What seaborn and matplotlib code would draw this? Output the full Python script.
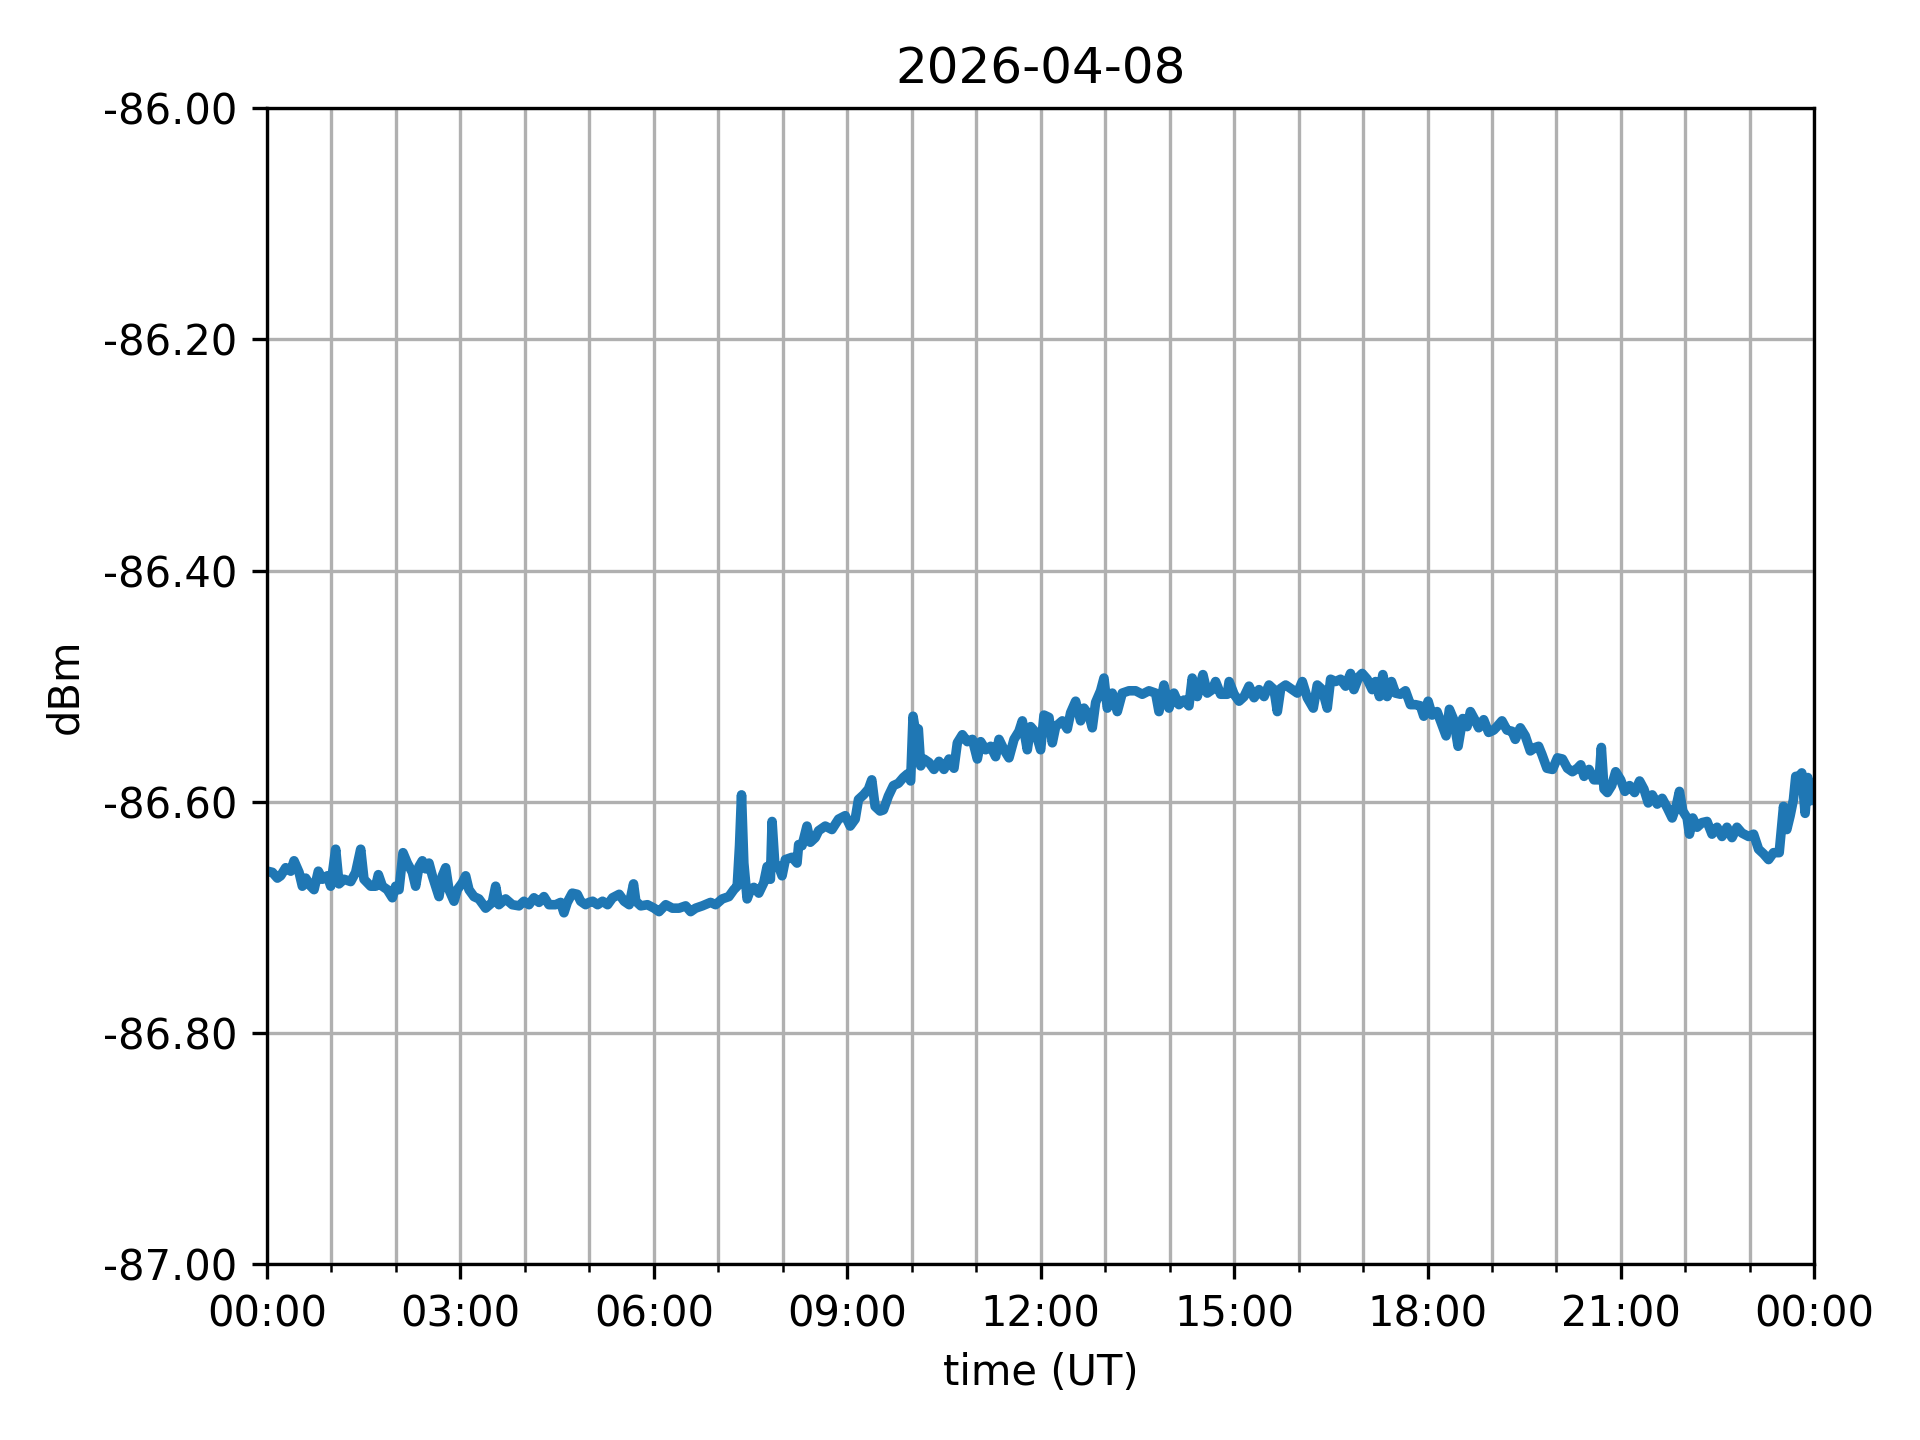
import pandas as pd
import numpy as np
import matplotlib
matplotlib.use('Agg')
import matplotlib.pyplot as plt
import matplotlib.dates as mdates
import matplotlib.ticker as mticker
import seaborn as sns

# signal level for one day
day = '2026-04-08'

hours = [0.01, 0.085, 0.163, 0.214, 0.292, 0.370, 0.421, 0.499, 0.550, 0.602,
         0.680, 0.731, 0.798, 0.860, 0.938, 0.990, 1.067, 1.119, 1.196, 1.300,
         1.377, 1.455, 1.506, 1.610, 1.687, 1.729, 1.791, 1.868, 1.946, 1.997,
         2.049, 2.111, 2.178, 2.256, 2.307, 2.359, 2.411, 2.463, 2.514, 2.566,
         2.618, 2.669, 2.721, 2.773, 2.824, 2.902, 2.953, 3.031, 3.083, 3.134,
         3.212, 3.289, 3.393, 3.496, 3.548, 3.599, 3.703, 3.806, 3.910, 3.987,
         4.065, 4.142, 4.220, 4.297, 4.375, 4.478, 4.556, 4.607, 4.659, 4.736,
         4.814, 4.866, 4.943, 4.995,
         5.052, 5.129, 5.206, 5.284, 5.361, 5.464, 5.541, 5.619, 5.686, 5.722,
         5.799, 5.902, 6.005, 6.082, 6.186, 6.289, 6.392, 6.495, 6.572, 6.649,
         6.753, 6.881, 6.959, 7.062, 7.165, 7.242, 7.294, 7.330, 7.361, 7.397,
         7.448, 7.500, 7.552, 7.629, 7.706, 7.758, 7.809, 7.835, 7.876, 7.938,
         7.990, 8.041, 8.144, 8.222, 8.247, 8.299, 8.376, 8.428, 8.505, 8.557,
         8.660, 8.763, 8.866, 8.969, 9.046, 9.124, 9.175, 9.253, 9.330, 9.381,
         9.433, 9.510, 9.562, 9.639, 9.716, 9.794, 9.871,
         9.933, 9.984, 10.021, 10.062, 10.103, 10.140, 10.191, 10.269, 10.346, 10.424,
         10.501, 10.579, 10.656, 10.708, 10.786, 10.863, 10.941, 11.018, 11.070, 11.147,
         11.225, 11.302, 11.354, 11.432, 11.509, 11.587, 11.664, 11.716, 11.793, 11.845,
         11.922, 12.000, 12.052, 12.129, 12.181, 12.233, 12.336, 12.413, 12.465, 12.543,
         12.620, 12.672, 12.749, 12.801, 12.853, 12.930, 12.982, 13.034, 13.111, 13.189,
         13.266, 13.370, 13.473, 13.576, 13.680, 13.783, 13.835, 13.912, 13.990, 14.067,
         14.145, 14.222, 14.300, 14.351, 14.429, 14.517, 14.584, 14.661, 14.713, 14.791,
         14.894,
         14.923, 15.000, 15.077, 15.155, 15.232, 15.310, 15.387, 15.465, 15.542, 15.619,
         15.671, 15.723, 15.800, 15.903, 15.981, 16.058, 16.135, 16.228, 16.290, 16.368,
         16.445, 16.497, 16.574, 16.652, 16.729, 16.806, 16.858, 16.935, 16.987, 17.065,
         17.142, 17.194, 17.255, 17.307, 17.374, 17.441, 17.503, 17.581, 17.658, 17.735,
         17.813, 17.890, 17.942, 18.009, 18.071, 18.148, 18.215, 18.288, 18.339, 18.406,
         18.474, 18.546, 18.613, 18.665, 18.742, 18.794, 18.871, 18.948, 19.026, 19.077,
         19.155, 19.232, 19.310, 19.361, 19.439, 19.516, 19.594, 19.671, 19.723, 19.774,
         19.852,
         19.938, 20.015, 20.093, 20.170, 20.247, 20.325, 20.376, 20.428, 20.505, 20.582,
         20.660, 20.696, 20.737, 20.789, 20.856, 20.918, 20.995, 21.062, 21.134, 21.211,
         21.289, 21.356, 21.423, 21.485, 21.562, 21.639, 21.716, 21.794, 21.856, 21.907,
         21.959, 22.026, 22.062, 22.113, 22.180, 22.258, 22.335, 22.412, 22.490, 22.567,
         22.644, 22.722, 22.799, 22.876, 22.979, 23.057, 23.134, 23.211, 23.289, 23.366,
         23.454, 23.521, 23.572, 23.624, 23.675, 23.711, 23.763, 23.804, 23.856, 23.897,
         23.933]

dbm = [-86.660, -86.661, -86.666, -86.664, -86.657, -86.660, -86.651, -86.661, -86.673, -86.666,
       -86.673, -86.676, -86.660, -86.667, -86.664, -86.673, -86.641, -86.671, -86.667, -86.669,
       -86.661, -86.641, -86.667, -86.673, -86.673, -86.663, -86.673, -86.676, -86.683, -86.673,
       -86.676, -86.644, -86.653, -86.661, -86.673, -86.656, -86.651, -86.658, -86.653, -86.664,
       -86.673, -86.682, -86.664, -86.657, -86.676, -86.686, -86.676, -86.670, -86.664, -86.676,
       -86.682, -86.684, -86.692, -86.687, -86.673, -86.689, -86.684, -86.689, -86.690, -86.686,
       -86.689, -86.683, -86.687, -86.682, -86.689, -86.689, -86.687, -86.696, -86.687, -86.679,
       -86.680, -86.686, -86.689, -86.687,
       -86.686, -86.689, -86.686, -86.689, -86.683, -86.680, -86.686, -86.689, -86.671, -86.686,
       -86.690, -86.689, -86.692, -86.695, -86.689, -86.692, -86.692, -86.690, -86.695, -86.692,
       -86.690, -86.687, -86.689, -86.684, -86.682, -86.676, -86.673, -86.638, -86.594, -86.653,
       -86.684, -86.676, -86.674, -86.679, -86.670, -86.656, -86.667, -86.617, -86.653, -86.656,
       -86.664, -86.650, -86.648, -86.653, -86.637, -86.638, -86.621, -86.635, -86.631, -86.625,
       -86.621, -86.624, -86.615, -86.612, -86.621, -86.615, -86.598, -86.594, -86.589, -86.581,
       -86.604, -86.608, -86.607, -86.595, -86.586, -86.584, -86.579,
       -86.576, -86.582, -86.526, -86.540, -86.537, -86.569, -86.563, -86.566, -86.572, -86.565,
       -86.572, -86.563, -86.571, -86.549, -86.542, -86.548, -86.546, -86.563, -86.548, -86.555,
       -86.552, -86.561, -86.546, -86.555, -86.562, -86.546, -86.539, -86.530, -86.555, -86.535,
       -86.540, -86.555, -86.525, -86.527, -86.549, -86.535, -86.530, -86.537, -86.523, -86.513,
       -86.530, -86.519, -86.525, -86.536, -86.514, -86.504, -86.493, -86.519, -86.506, -86.522,
       -86.506, -86.504, -86.504, -86.507, -86.504, -86.506, -86.522, -86.499, -86.519, -86.506,
       -86.516, -86.512, -86.517, -86.493, -86.509, -86.490, -86.506, -86.503, -86.496, -86.507,
       -86.507,
       -86.496, -86.507, -86.513, -86.509, -86.500, -86.510, -86.503, -86.509, -86.499, -86.503,
       -86.522, -86.502, -86.499, -86.503, -86.506, -86.496, -86.510, -86.519, -86.499, -86.503,
       -86.519, -86.494, -86.496, -86.494, -86.500, -86.489, -86.503, -86.492, -86.489, -86.494,
       -86.503, -86.496, -86.509, -86.490, -86.509, -86.496, -86.506, -86.507, -86.504, -86.516,
       -86.516, -86.517, -86.526, -86.513, -86.525, -86.522, -86.532, -86.543, -86.520, -86.529,
       -86.552, -86.528, -86.535, -86.522, -86.530, -86.536, -86.529, -86.540, -86.538, -86.535,
       -86.530, -86.538, -86.539, -86.546, -86.536, -86.543, -86.556, -86.553, -86.552, -86.559,
       -86.571,
       -86.572, -86.562, -86.563, -86.571, -86.574, -86.571, -86.568, -86.578, -86.572, -86.581,
       -86.581, -86.553, -86.589, -86.592, -86.586, -86.574, -86.581, -86.591, -86.586, -86.592,
       -86.582, -86.589, -86.601, -86.594, -86.602, -86.597, -86.605, -86.614, -86.604, -86.591,
       -86.608, -86.614, -86.628, -86.614, -86.622, -86.618, -86.617, -86.628, -86.622, -86.630,
       -86.622, -86.631, -86.622, -86.627, -86.630, -86.628, -86.641, -86.645, -86.650, -86.644,
       -86.644, -86.604, -86.624, -86.612, -86.598, -86.578, -86.578, -86.575, -86.610, -86.579,
       -86.599]

t0 = pd.Timestamp(day)
df = pd.DataFrame({'time': t0 + pd.to_timedelta(hours, unit='h'), 'dBm': dbm})

fig, ax = plt.subplots(figsize=(6.4, 4.8))
sns.lineplot(data=df, x='time', y='dBm', estimator=None, color='#1f77b4', linewidth=2.3, ax=ax)

ax.set_xlim(t0, t0 + pd.Timedelta(days=1))
ax.set_ylim(-87, -86)
ax.yaxis.set_major_locator(mticker.MultipleLocator(0.2))
ax.yaxis.set_major_formatter(mticker.FormatStrFormatter('%.2f'))
ax.xaxis.set_major_locator(mdates.HourLocator(byhour=range(0, 24, 3)))
ax.xaxis.set_minor_locator(mdates.HourLocator())
ax.xaxis.set_major_formatter(mdates.DateFormatter('%H:%M'))

ax.grid(True, which='major')
ax.grid(True, which='minor', axis='x')

ax.set_title(day)
ax.set_xlabel('time (UT)')
ax.set_ylabel('dBm')

plt.subplots_adjust(left=0.139, right=0.945, top=0.925, bottom=0.122)
plt.savefig('out.png', dpi=300)
